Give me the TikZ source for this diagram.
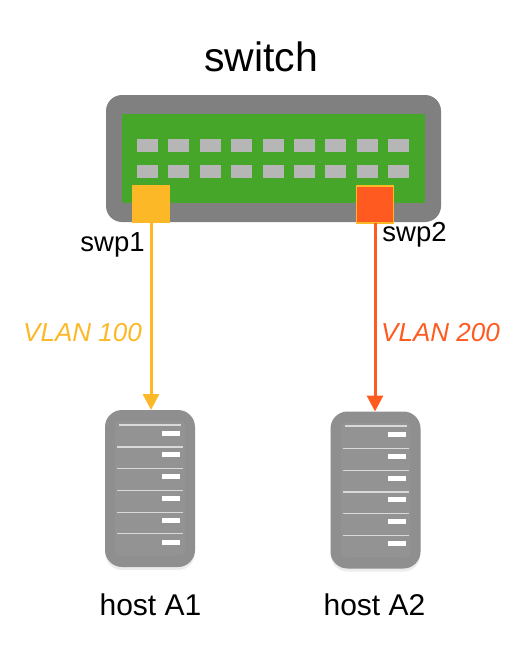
\documentclass[tikz,border=0pt]{standalone}
\usepackage{fontspec}
\setmainfont{Liberation Sans}
\usepackage{tikz}
\usetikzlibrary{arrows.meta,shadows}
\definecolor{chassis}{HTML}{808080}
\definecolor{board}{HTML}{45A62A}
\definecolor{led}{HTML}{B6B6B6}
\definecolor{vlanA}{HTML}{FDB827}
\definecolor{vlanB}{HTML}{FF5A1F}
\definecolor{hostbody}{HTML}{8F8F8F}
\definecolor{hostface}{HTML}{939393}
\newcommand{\hostrack}[1]{%
  \node[rackface] at (#1.center) {};
  \draw[rackline,line width=2pt] ([xshift=-31pt,yshift=64pt]#1.center) -- ([xshift=31pt,yshift=64pt]#1.center);
  \foreach \i in {0,...,4} {
    \draw[rackline] ([xshift=-33pt,yshift=\i*-21.7pt+41.5pt]#1.center) -- ([xshift=33pt,yshift=\i*-21.7pt+41.5pt]#1.center);
  }
  \foreach \i in {0,...,5} {
    \node[rackled] at ([xshift=21pt,yshift=\i*-21.8pt+55.5pt]#1.center) {};
  }
}
\tikzset{
  box/.style={inner sep=0pt,outer sep=0pt,minimum width=#1},
  portled/.style={box=21pt,minimum height=13pt,fill=led},
  port/.style={box=38pt,minimum height=38pt},
  hostbox/.style={box=90pt,minimum height=157pt,rounded corners=17pt,fill=hostbody,
    drop shadow={opacity=.15,shadow xshift=0pt,shadow yshift=-3pt}},
  rackface/.style={box=70pt,minimum height=134pt,rounded corners=5pt,fill=hostface},
  rackline/.style={line width=1.2pt,draw=white!70!gray},
  rackled/.style={box=18pt,minimum height=5pt,fill=white},
  swplabel/.style={inner sep=0pt,font=\fontsize{27.5}{30}\selectfont},
  hostlabel/.style={inner sep=0pt,font=\fontsize{30}{34}\selectfont},
  vlan/.style={inner sep=0pt,font=\fontsize{26}{30}\selectfont\itshape},
  link/.style={line width=3pt,-{Triangle[length=16pt,width=16pt]}}
}
\begin{document}
\begin{tikzpicture}[x=1pt,y=-1pt]
  \useasboundingbox (0,0) rectangle (514,664);
  \node[font=\fontsize{41}{46}\selectfont,inner sep=0pt] (title) at (261,57) {switch};
  \node[box=335pt,minimum height=127pt,rounded corners=16pt,fill=chassis] (sw) at (273.5,158.5) {};
  \node[box=303pt,minimum height=89pt,fill=board] (pcb) at (273.5,158.5) {};
  \foreach \c in {0,...,8} {
    \node[portled] (a\c) at (147.5+\c*31.4,145.5) {};
    \node[portled] (b\c) at (147.5+\c*31.4,171.5) {};
  }
  \node[port,fill=vlanA] (swp1) at (151,204) {};
  \node[port,fill=vlanB,draw=vlanA,line width=1.2pt,minimum width=37pt,minimum height=37pt] (swp2) at (375,204.5) {};
  \node[swplabel] (swp1t) at (112.5,245) {swp1};
  \node[swplabel] (swp2t) at (414.5,235) {swp2};
  \node[hostbox] (hosta) at (150,488.5) {};
  \hostrack{hosta}
  \node[hostbox] (hostb) at (375.5,490) {};
  \hostrack{hostb}
  \node[hostlabel] at (150.5,605) (hostat) {host A1};
  \node[hostlabel] at (374.5,605) (hostbt) {host A2};
  \draw[link,vlanA] (swp1) -- (swp1 |- hosta.north);
  \draw[link,vlanB] (swp2) -- (swp2 |- hostb.north);
  \node[vlan,text=vlanA] (vlana) at (82.5,333) {VLAN 100};
  \node[vlan,text=vlanB] (vlanb) at (440.5,333) {VLAN 200};
\end{tikzpicture}
\end{document}
